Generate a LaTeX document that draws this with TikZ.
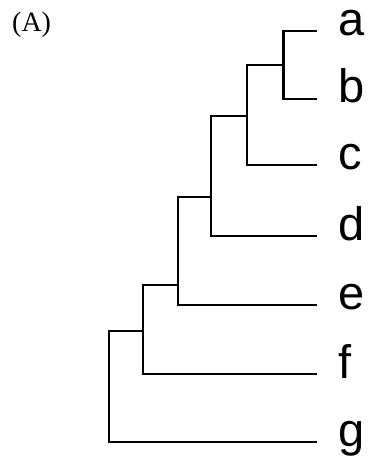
\documentclass[tikz,border=0pt]{standalone}
\usepackage{fontspec}
\setmainfont{Liberation Serif}
\newfontfamily\labfont{Liberation Sans}
\begin{document}
\begin{tikzpicture}[x=1pt,y=-1pt,
  branch/.style={draw=black,line width=2.4pt,line join=miter},
  leaflabel/.style={anchor=base west,inner sep=0pt,font=\labfont\fontsize{47}{47}\selectfont},
  paneltag/.style={anchor=base west,inner sep=0pt,font=\fontsize{28}{28}\selectfont}]
\useasboundingbox (0,0) rectangle (367,457);
% leaf ends
\coordinate (a) at (317,31);
\coordinate (b) at (317,99);
\coordinate (c) at (317,165);
\coordinate (d) at (317,236);
\coordinate (e) at (317,305);
\coordinate (f) at (317,374);
\coordinate (g) at (317,442);
% internal nodes
\coordinate (n1) at (283.5,65);
\coordinate (n2) at (247,116);
\coordinate (n3) at (211,197);
\coordinate (n4) at (178,285);
\coordinate (n5) at (143,331);
\coordinate (n6) at (109,442);
% branches
\draw[branch] (a) -| (n1) |- (b);
\draw[branch] (n1) -| (n2) |- (c);
\draw[branch] (n2) -| (n3) |- (d);
\draw[branch] (n3) -| (n4) |- (e);
\draw[branch] (n4) -| (n5) |- (f);
\draw[branch] (n5) -| (n6) -- (g);
% labels
\node[leaflabel] (la) at (338,36) {a};
\node[leaflabel] (lb) at (338,103) {b};
\node[leaflabel] (lc) at (338,169) {c};
\node[leaflabel] (ld) at (338,240) {d};
\node[leaflabel] (le) at (338,309) {e};
\node[leaflabel] (lf) at (338,378) {f};
\node[leaflabel] (lg) at (338,446) {g};
\node[paneltag] (tag) at (12,32) {(A)};
\end{tikzpicture}
\end{document}
